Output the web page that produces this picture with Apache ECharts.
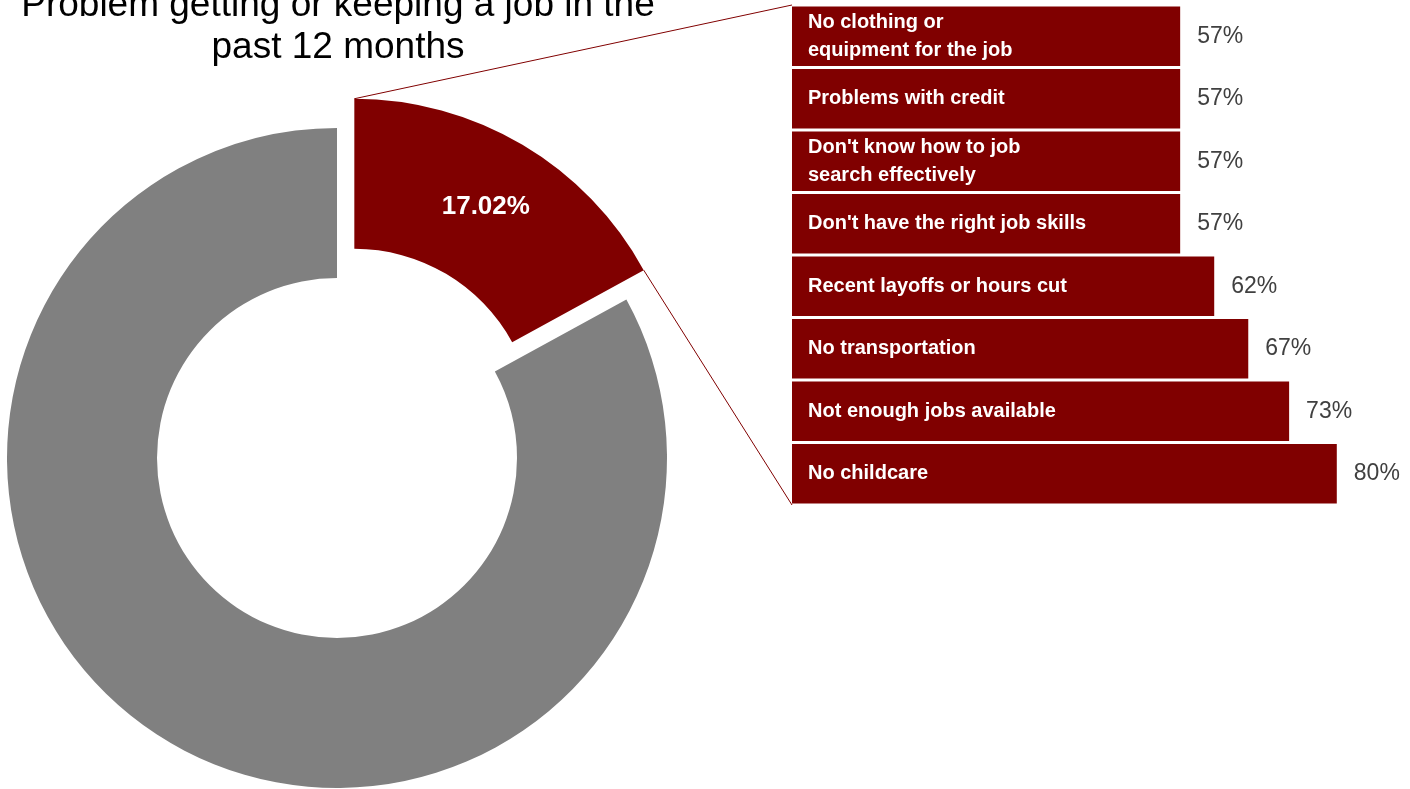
<!DOCTYPE html>
<html>
<head>
<meta charset="utf-8">
<script src="https://cdn.jsdelivr.net/npm/echarts@6/dist/echarts.min.js"></script>
<style>
  html, body { margin: 0; padding: 0; background: #fff; }
  #main { width: 1410px; height: 789px; }
</style>
</head>
<body>
<div id="main"></div>
<script>
// 数据
var titleText = 'Problem getting or keeping a job in the\npast 12 months';
var pieNames = ['Had a problem', 'No problem'];
var pieValues = [17.02, 82.98];
var barCategories = [
  'No clothing or\nequipment for the job',
  'Problems with credit',
  "Don't know how to job\nsearch effectively",
  "Don't have the right job skills",
  'Recent layoffs or hours cut',
  'No transportation',
  'Not enough jobs available',
  'No childcare'
];
var barValues = [57, 57, 57, 57, 62, 67, 73, 80];

var RED = '#800000';
var GREY = '#808080';

// 饼图几何
var pieCenter = [337, 458];
var pieRadius = [180, 330];
var pieOffset = 34;
// 条形图区域（右侧贴边，刻度上限让 80% 落在约 1337px）
var gridLeft = 792, gridTop = 5, gridHeight = 500;
var xMax = 90.75;

var myChart = echarts.init(document.getElementById('main'), null, { renderer: 'canvas' });

option = {
  animation: false,
  title: {
    text: titleText,
    left: 338,
    top: -15,
    padding: 0,
    textAlign: 'center',
    textStyle: {
      fontFamily: 'Liberation Sans, Arial, sans-serif',
      fontSize: 37,
      fontWeight: 'normal',
      color: '#000',
      lineHeight: 42
    }
  },
  grid: {
    left: gridLeft,
    top: gridTop,
    right: 0,
    height: gridHeight
  },
  xAxis: {
    type: 'value',
    min: 0,
    max: xMax,
    show: false
  },
  yAxis: {
    type: 'category',
    inverse: true,
    data: barCategories,
    z: 10,
    axisLine: { show: false },
    axisTick: { show: false },
    axisLabel: {
      inside: true,
      margin: 16,
      color: '#fff',
      fontWeight: 'bold',
      fontSize: 20,
      lineHeight: 28,
      fontFamily: 'Liberation Sans Narrow, Arial Narrow, Liberation Sans, sans-serif'
    }
  },
  series: [
    {
      type: 'pie',
      center: pieCenter,
      radius: pieRadius,
      startAngle: 90,
      clockwise: true,
      selectedMode: 'single',
      selectedOffset: pieOffset,
      emphasis: { disabled: true },
      label: { show: false },
      labelLine: { show: false },
      data: [
        {
          name: pieNames[0],
          value: pieValues[0],
          selected: true,
          itemStyle: { color: RED },
          label: {
            show: true,
            position: 'inside',
            formatter: '{c}%',
            color: '#fff',
            fontWeight: 'bold',
            fontSize: 26,
            fontFamily: 'Liberation Sans, Arial, sans-serif'
          }
        },
        {
          name: pieNames[1],
          value: pieValues[1],
          itemStyle: { color: GREY }
        }
      ]
    },
    {
      type: 'bar',
      data: barValues,
      barCategoryGap: '5%',
      itemStyle: { color: RED },
      emphasis: { disabled: true },
      label: {
        show: true,
        position: 'right',
        distance: 17,
        formatter: '{c}%',
        color: '#404040',
        fontSize: 23,
        fontFamily: 'Liberation Sans, Arial, sans-serif'
      }
    }
  ]
};

myChart.setOption(option);

// 连接线：从红色扇区外缘到条形图左侧
var total = pieValues[0] + pieValues[1];
var endAng = pieValues[0] / total * 2 * Math.PI;
var midAng = endAng / 2;
var rc = [pieCenter[0] + pieOffset * Math.sin(midAng), pieCenter[1] - pieOffset * Math.cos(midAng)];
var R = pieRadius[1];
var pStart = [rc[0], rc[1] - R];
var pEnd = [rc[0] + R * Math.sin(endAng), rc[1] - R * Math.cos(endAng)];

myChart.setOption({
  graphic: [
    {
      type: 'line',
      z: 1,
      shape: { x1: pStart[0], y1: pStart[1], x2: gridLeft, y2: gridTop },
      style: { stroke: RED, lineWidth: 1 }
    },
    {
      type: 'line',
      z: 1,
      shape: { x1: pEnd[0], y1: pEnd[1], x2: gridLeft, y2: gridTop + gridHeight },
      style: { stroke: RED, lineWidth: 1 }
    }
  ]
});
</script>
</body>
</html>
